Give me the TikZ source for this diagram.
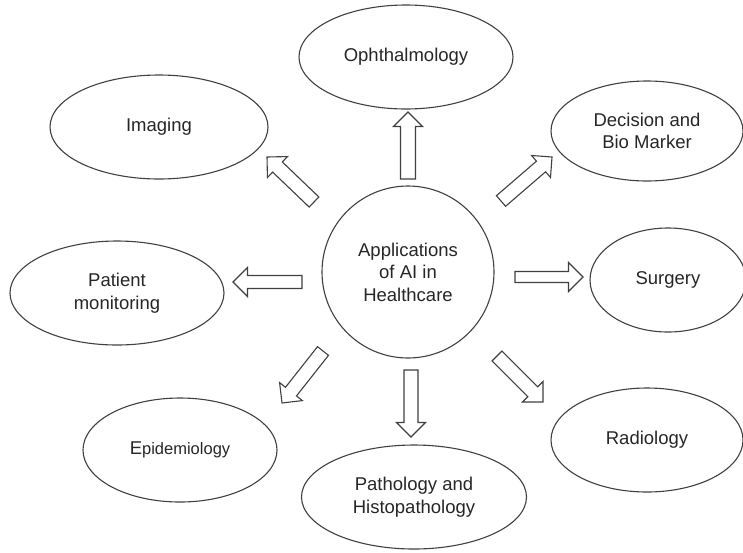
\documentclass[tikz,border=0pt]{standalone}
\usepackage{fontspec}
\setmainfont{Liberation Sans}
\usetikzlibrary{calc,shapes.geometric}
\newcommand{\mainfnt}{\fontsize{18.5}{22.5}\selectfont}
\tikzset{
  bubble/.style={ellipse, draw=black!75, line width=1.1pt, inner sep=0pt, align=center, font=\mainfnt, text=black!85},
  barrow/.style={draw=black!75, line width=1.1pt, line join=miter, fill=white},
}
\newcommand{\blockarrow}[3][7pt]{%
  \coordinate (#2#3h) at ($(#3)!14.5pt!(#2)$);
  \draw[barrow] ($(#2)!#1!90:(#3)$) -- ($(#2#3h)!#1!90:(#3)$) -- ($(#2#3h)!14.5pt!90:(#3)$) -- (#3)
    -- ($(#2#3h)!14.5pt!-90:(#3)$) -- ($(#2#3h)!#1!-90:(#3)$) -- ($(#2)!#1!-90:(#3)$) -- cycle;}
\begin{document}
\begin{tikzpicture}[x=1pt,y=-1pt]
\useasboundingbox (0,0) rectangle (743,552);
\node[bubble, circle, minimum size=172pt] (c) at (408,272) {Applications\\of AI in\\Healthcare};
\node[bubble, minimum width=214pt, minimum height=104pt] (oph) at (406,57) {Ophthalmology};
\node[bubble, minimum width=218pt, minimum height=104pt] (img) at (159,127) {Imaging};
\node[bubble, minimum width=192pt, minimum height=100pt] (dec) at (647,131) {Decision and\\Bio Marker};
\node[bubble, minimum width=214pt, minimum height=104pt] (pat) at (117,293) {Patient\\monitoring};
\node[bubble, minimum width=156pt, minimum height=104pt] (sur) at (668,280) {Surgery};
\node[bubble, minimum width=194pt, minimum height=104pt] (epi) at (180,450) {E{\fontsize{16.5}{20}\selectfont pidemiology}};
\node[bubble, minimum width=225pt, minimum height=104pt] (path) at (414,497) {Pathology and\\Histopathology};
\node[bubble, minimum width=192pt, minimum height=104pt] (rad) at (647,440) {Radiology};
% arrow end points
\coordinate (t1) at (408,179); \coordinate (h1) at (408,112);
\coordinate (t2) at (411,370); \coordinate (h2) at (411,437);
\coordinate (t3) at (302,282); \coordinate (h3) at (233,282);
\coordinate (t4) at (515,277); \coordinate (h4) at (583,277);
\coordinate (t5) at (314,202); \coordinate (h5) at (267,157);
\coordinate (t6) at (501,201); \coordinate (h6) at (552,157);
\coordinate (t7) at (323,351); \coordinate (h7) at (282,403);
\coordinate (t8) at (497,356); \coordinate (h8) at (543,402);
\blockarrow[7.5pt]{t1}{h1}
\blockarrow[7pt]{t2}{h2}
\blockarrow[6.5pt]{t3}{h3}
\blockarrow[5.5pt]{t4}{h4}
\blockarrow[7pt]{t5}{h5}
\blockarrow[7pt]{t6}{h6}
\blockarrow[7pt]{t7}{h7}
\blockarrow[7pt]{t8}{h8}
\end{tikzpicture}
\end{document}
